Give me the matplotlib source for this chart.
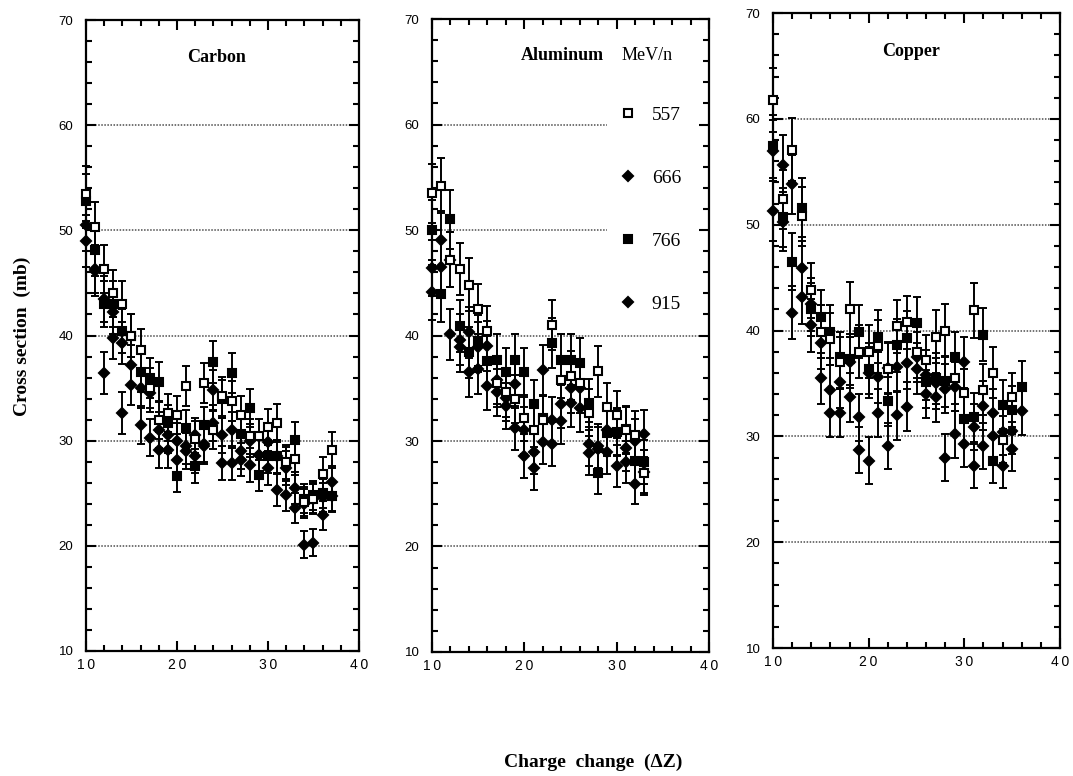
import numpy as np
import matplotlib.pyplot as plt
from matplotlib.ticker import MultipleLocator, FixedLocator

# ---- data (cross section in mb vs charge change dZ) ----
energies = ['557', '666', '766', '915']

carbon_dz = list(range(10, 38))
carbon_557 = [53.5, 50.3, 46.3, 44.0, 43.0, 40.0, 38.6, 35.0, 32.0, 32.6, 32.4, 35.2, 30.2, 35.5,
              31.0, 34.2, 33.8, 32.4, 30.4, 30.4, 31.3, 31.7, 28.0, 28.3, 24.2, 24.5, 26.8, 29.1]
carbon_666 = [50.5, 46.1, 43.5, 42.2, 39.3, 37.2, 35.0, 34.5, 31.0, 30.5, 30.0, 29.5, 30.5, 29.5,
              34.8, 30.5, 31.0, 29.0, 30.0, 28.6, 29.9, 28.5, 27.4, 25.5, 24.0, 24.5, 24.6, 26.1]
carbon_766 = [52.8, 48.1, 43.0, 43.0, 40.4, 40.0, 36.5, 36.0, 35.6, 31.7, 26.6, 31.2, 27.6, 31.5,
              37.5, 34.0, 36.4, 30.6, 33.1, 26.7, 28.5, 28.5, 27.8, 30.1, 24.5, 24.8, 25.0, 24.7]
carbon_915 = [49.0, 46.3, 36.4, 39.8, 32.6, 35.3, 31.5, 30.3, 29.1, 29.1, 28.2, 29.0, 28.5, 29.7,
              31.7, 27.9, 27.9, 28.2, 27.7, 28.6, 27.4, 25.3, 24.8, 23.6, 20.1, 20.3, 22.9, 24.7]
carbon_err_557 = [2.6, 2.4, 2.3, 2.2, 2.2, 2.0, 2.0, 1.9, 1.8, 1.8, 1.8, 1.9, 1.7, 1.9,
                  1.8, 1.9, 1.9, 1.8, 1.7, 1.7, 1.7, 1.8, 1.6, 1.6, 1.4, 1.5, 1.6, 1.7]
carbon_err_666 = [2.5, 2.3, 2.2, 2.1, 2.0, 1.9, 1.9, 1.8, 1.7, 1.7, 1.7, 1.7, 1.7, 1.7,
                  1.9, 1.7, 1.7, 1.7, 1.6, 1.6, 1.7, 1.6, 1.6, 1.5, 1.4, 1.4, 1.4, 1.5]
carbon_err_766 = [2.6, 2.4, 2.2, 2.2, 2.1, 2.0, 1.9, 1.9, 1.9, 1.7, 1.5, 1.7, 1.6, 1.7,
                  2.0, 1.8, 1.9, 1.7, 1.8, 1.5, 1.6, 1.6, 1.6, 1.7, 1.4, 1.4, 1.4, 1.4]
carbon_err_915 = [2.5, 2.3, 2.0, 2.0, 2.0, 1.9, 1.8, 1.8, 1.7, 1.7, 1.7, 1.7, 1.6, 1.7,
                  1.7, 1.6, 1.6, 1.6, 1.6, 1.6, 1.6, 1.5, 1.5, 1.4, 1.3, 1.3, 1.4, 1.5]

alum_dz = list(range(10, 34))
alum_557 = [53.5, 54.2, 47.2, 46.3, 44.8, 42.5, 40.4, 35.5, 34.6, 34.0, 32.2, 31.0, 32.0, 41.0,
            35.8, 36.2, 35.5, 32.7, 36.6, 33.2, 32.5, 31.0, 30.6, 27.0]
alum_666 = [46.4, 49.1, 47.2, 39.6, 40.3, 38.9, 39.0, 35.8, 33.3, 35.4, 31.0, 29.0, 36.7, 32.0,
            33.5, 33.6, 35.0, 29.7, 29.5, 31.0, 30.8, 29.3, 30.0, 30.7]
alum_766 = [50.0, 43.9, 51.0, 40.9, 38.4, 39.5, 37.6, 37.7, 36.5, 37.7, 36.5, 33.5, 32.2, 39.3,
            37.7, 37.7, 37.4, 33.6, 27.0, 30.8, 30.9, 31.1, 28.1, 28.0]
alum_915 = [44.1, 46.5, 40.1, 38.9, 36.5, 36.8, 35.2, 34.6, 34.1, 31.2, 28.6, 27.4, 29.9, 29.7,
            31.9, 35.0, 33.1, 28.9, 29.2, 29.0, 27.6, 28.0, 25.9, 27.1]
alum_err_557 = [2.8, 2.6, 2.6, 2.5, 2.5, 2.4, 2.4, 2.3, 2.3, 2.3, 2.2, 2.2, 2.3, 2.4,
                2.3, 2.3, 2.3, 2.2, 2.4, 2.3, 2.2, 2.2, 2.2, 2.1]
alum_err_666 = [2.7, 2.7, 2.6, 2.4, 2.4, 2.4, 2.4, 2.3, 2.2, 2.3, 2.2, 2.1, 2.4, 2.2,
                2.3, 2.3, 2.3, 2.1, 2.1, 2.2, 2.2, 2.1, 2.1, 2.2]
alum_err_766 = [2.8, 2.6, 2.8, 2.5, 2.4, 2.4, 2.4, 2.4, 2.3, 2.4, 2.3, 2.3, 2.2, 2.4,
                2.4, 2.4, 2.4, 2.3, 2.0, 2.2, 2.2, 2.2, 2.1, 2.1]
alum_err_915 = [2.6, 2.6, 2.4, 2.4, 2.3, 2.3, 2.3, 2.2, 2.2, 2.1, 2.1, 2.0, 2.1, 2.1,
                2.2, 2.3, 2.2, 2.1, 2.1, 2.1, 2.0, 2.0, 1.9, 2.0]

copper_dz = list(range(10, 37))
copper_557 = [61.8, 52.4, 57.1, 50.8, 43.8, 39.9, 39.2, 37.0, 42.0, 38.0, 38.0, 38.5, 36.4, 40.4,
              40.8, 38.0, 37.2, 39.4, 40.0, 35.5, 34.1, 41.9, 34.4, 36.0, 29.7, 33.7, np.nan]
copper_666 = [57.0, 55.6, 53.8, 45.9, 42.5, 38.8, 34.4, 35.1, 37.0, 31.8, 36.0, 35.6, 36.5, 36.6,
              36.9, 36.4, 34.0, 33.7, 34.5, 34.7, 37.0, 30.9, 32.9, 32.2, 30.4, 30.5, 32.4]
copper_766 = [57.4, 50.7, 46.5, 51.6, 42.0, 41.3, 39.9, 37.5, 37.3, 39.9, 36.4, 39.4, 33.3, 38.6,
              39.3, 40.7, 35.1, 35.5, 35.2, 37.5, 31.6, 31.8, 39.6, 27.7, 33.0, 32.5, 34.7]
copper_915 = [51.3, 50.3, 41.7, 43.2, 40.5, 35.5, 32.2, 32.2, 33.7, 28.7, 27.7, 32.2, 29.1, 32.0,
              32.8, 37.5, 35.8, 35.0, 28.0, 30.2, 29.3, 27.2, 29.1, 30.0, 27.2, 28.8, np.nan]
copper_err_557 = [3.0, 2.8, 3.0, 2.8, 2.6, 2.5, 2.5, 2.4, 2.6, 2.5, 2.5, 2.5, 2.4, 2.5,
                  2.5, 2.5, 2.4, 2.5, 2.5, 2.4, 2.3, 2.6, 2.4, 2.4, 2.2, 2.3, 2.3]
copper_err_666 = [2.9, 2.9, 2.8, 2.6, 2.5, 2.4, 2.3, 2.4, 2.4, 2.2, 2.4, 2.4, 2.4, 2.4,
                  2.4, 2.4, 2.3, 2.3, 2.3, 2.3, 2.4, 2.2, 2.3, 2.3, 2.2, 2.2, 2.3]
copper_err_766 = [3.0, 2.8, 2.7, 2.8, 2.5, 2.5, 2.5, 2.4, 2.4, 2.5, 2.4, 2.5, 2.3, 2.5,
                  2.5, 2.5, 2.4, 2.4, 2.4, 2.4, 2.3, 2.3, 2.5, 2.1, 2.3, 2.3, 2.4]
copper_err_915 = [2.8, 2.8, 2.5, 2.6, 2.5, 2.4, 2.3, 2.3, 2.3, 2.2, 2.2, 2.3, 2.2, 2.3,
                  2.3, 2.4, 2.4, 2.4, 2.2, 2.2, 2.2, 2.1, 2.2, 2.2, 2.1, 2.1, 2.1]

panels = [
    ('Carbon', carbon_dz, [carbon_557, carbon_666, carbon_766, carbon_915],
     [carbon_err_557, carbon_err_666, carbon_err_766, carbon_err_915]),
    ('Aluminum', alum_dz, [alum_557, alum_666, alum_766, alum_915],
     [alum_err_557, alum_err_666, alum_err_766, alum_err_915]),
    ('Copper', copper_dz, [copper_557, copper_666, copper_766, copper_915],
     [copper_err_557, copper_err_666, copper_err_766, copper_err_915]),
]

# marker style per beam energy: open square, diamond, filled square, diamond
styles = [dict(marker='s', mfc='white', ms=6.0, zorder=6),
          dict(marker='D', mfc='black', ms=5.0, zorder=4),
          dict(marker='s', mfc='black', ms=6.0, zorder=5),
          dict(marker='D', mfc='black', ms=4.6, zorder=3)]

serif = ['Liberation Serif', 'DejaVu Serif']
sans = ['Liberation Sans', 'DejaVu Sans']

fig = plt.figure(figsize=(10.73, 7.76), dpi=100)
boxes = [[0.0801, 0.1611, 0.2544, 0.8131],
         [0.4026, 0.1598, 0.2582, 0.8157],
         [0.7204, 0.1649, 0.2675, 0.8183]]

for i, (name, dz, series, errs) in enumerate(panels):
    ax = fig.add_axes(boxes[i])
    for vals, err, lab, st in zip(series, errs, energies, styles):
        ax.errorbar(dz, vals, yerr=err, fmt='none', ecolor='black', elinewidth=1.4,
                    capsize=3, capthick=1.4, zorder=2, clip_on=False)
        ax.plot(dz, vals, ls='none', mec='black', mew=1.5, label=lab, clip_on=False, **st)

    # dotted reference lines
    for g in [20, 30, 40, 50, 60]:
        xmax = 0.63 if (name == 'Aluminum' and g >= 50) else 1
        ax.axhline(g, xmax=xmax, color='0.3', ls=(0, (1, 1)), lw=1.1, zorder=1)

    ax.set_xlim(10, 40)
    ax.set_ylim(10, 70)
    ax.xaxis.set_major_locator(FixedLocator([10, 20, 30, 40]))
    ax.xaxis.set_minor_locator(MultipleLocator(2))
    ax.yaxis.set_major_locator(MultipleLocator(10))
    ax.yaxis.set_minor_locator(MultipleLocator(2))
    ax.set_xticklabels(['1\u20090', '2\u20090', '3\u20090', '4\u20090'], family=sans, fontsize=10)
    ax.tick_params(which='both', direction='in', top=True, right=True, width=1.5)
    ax.tick_params(which='major', length=7)
    ax.tick_params(which='minor', length=4)
    ax.tick_params(axis='y', labelsize=9.5, pad=9)
    ax.tick_params(axis='x', pad=5)
    for t in ax.get_yticklabels():
        t.set_family(sans)
    for sp in ax.spines.values():
        sp.set_linewidth(1.6)

    if name == 'Aluminum':
        ax.text(0.47, 0.943, name, transform=ax.transAxes, ha='center', va='center',
                family=serif, fontweight='bold', fontsize=13)
        ax.text(0.776, 0.943, 'MeV/n', transform=ax.transAxes, ha='center', va='center',
                family=serif, fontsize=13)
        ax.legend(loc='upper left', bbox_to_anchor=(0.625, 0.89), frameon=False,
                  handlelength=0.6, handletextpad=0.9, labelspacing=2.33,
                  prop={'family': serif, 'size': 14})
    else:
        ax.text(0.48, 0.94, name, transform=ax.transAxes, ha='center', va='center',
                family=serif, fontweight='bold', fontsize=13)

fig.text(0.021, 0.567, 'Cross section  (mb)', rotation=90, ha='center', va='center',
         family=serif, fontweight='bold', fontsize=14)
fig.text(0.553, 0.018, 'Charge  change  (\u0394Z)', ha='center', va='center',
         family=serif, fontweight='bold', fontsize=14)

fig.savefig('out.png', dpi=100)
